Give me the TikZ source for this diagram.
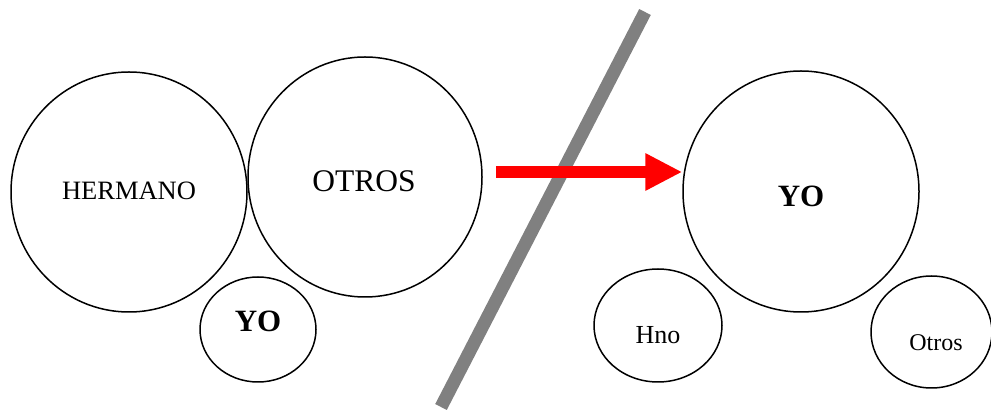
\documentclass[tikz,border=0pt]{standalone}
\usepackage{fontspec}
\setmainfont{Liberation Serif}
\usetikzlibrary{shapes.geometric,arrows.meta}
\begin{document}
\begin{tikzpicture}[x=1pt,y=-1pt,
  oval/.style={draw=black,line width=1.5pt,ellipse,inner sep=0pt},
  lbl/.style={inner sep=0pt,text=black}]
\useasboundingbox (0,0) rectangle (991,411);
% left group
\node[oval,minimum width=236pt,minimum height=240pt] (herm) at (129,192) {};
\node[oval,minimum width=234pt,minimum height=240pt] (otros) at (365,177) {};
\node[oval,minimum width=116pt,minimum height=105pt] (yos) at (258,329.5) {};
\node[lbl,font=\fontsize{26.5}{30}\selectfont] (thermano) at (129,191) {HERMANO};
\node[lbl,font=\fontsize{31.5}{36}\selectfont] (totros) at (364,181) {OTROS};
\node[lbl,font=\fontsize{31}{36}\selectfont\bfseries] (tyos) at (258,321) {YO};
% divider
\coordinate (gtop) at (645,12);
\coordinate (gbot) at (441,407);
\draw[line width=13pt,color={rgb,255:red,128;green,128;blue,128}] (gtop) -- (gbot);
% right group
\node[oval,minimum width=236pt,minimum height=241pt] (yob) at (801,191.5) {};
\node[oval,minimum width=128pt,minimum height=113pt] (hno) at (658,325.5) {};
\node[oval,minimum width=121pt,minimum height=112pt] (otr) at (931.5,332) {};
\node[lbl,font=\fontsize{31}{36}\selectfont\bfseries] (tyob) at (801,196) {YO};
\node[lbl,font=\fontsize{26}{30}\selectfont] (thno) at (658,335) {Hno};
\node[lbl,font=\fontsize{24}{28}\selectfont] (totr) at (936,343) {Otros};
% arrow
\coordinate (astart) at (496,172);
\draw[red,line width=12pt,-{Triangle[length=37pt,width=35pt]}] (astart) -- (astart -| yob.west);
\end{tikzpicture}
\end{document}
